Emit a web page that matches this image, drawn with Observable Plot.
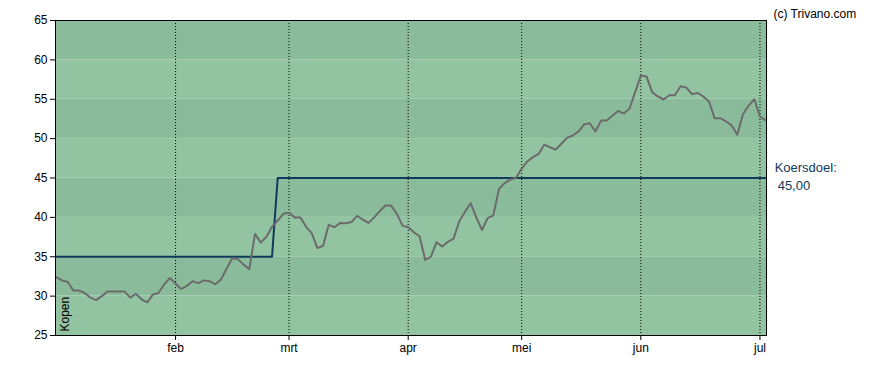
<!DOCTYPE html>
<html><head><meta charset="utf-8">
<script src="https://cdn.jsdelivr.net/npm/d3@7"></script>
<script src="https://cdn.jsdelivr.net/npm/@observablehq/plot@0.6"></script>
<style>body{margin:0;background:#fff} svg{display:block}</style>
</head><body><div id="chart"></div>
<script>
// Koers (price) per trading day, starting early January
const price = [
  32.4, 32.0, 31.8, 30.7, 30.7, 30.4, 29.8, 29.5, 30.0, 30.6,
  30.6, 30.6, 30.6, 29.8, 30.3, 29.6, 29.2, 30.2, 30.4, 31.5,
  32.3, 31.6, 30.9, 31.3, 31.9, 31.65, 32.0, 31.9, 31.5, 32.1,
  33.5, 34.8, 34.7, 34.0, 33.4, 37.9, 36.8, 37.5, 38.8, 39.6,
  40.45, 40.6, 40.0, 40.0, 38.8, 38.0, 36.1, 36.4, 39.05, 38.75,
  39.3, 39.25, 39.4, 40.2, 39.7, 39.3, 40.0, 40.8, 41.5, 41.5,
  40.45, 38.95, 38.75, 38.1, 37.6, 34.6, 35.0, 36.85, 36.3, 36.9,
  37.3, 39.5, 40.7, 41.8, 40.0, 38.4, 39.9, 40.25, 43.6, 44.35,
  44.8, 45.0, 46.2, 47.1, 47.65, 48.05, 49.25, 48.9, 48.6, 49.35,
  50.1, 50.4, 50.9, 51.8, 51.95, 50.9, 52.3, 52.3, 52.9, 53.5,
  53.2, 53.8, 55.9, 58.0, 57.9, 55.9, 55.35, 54.97, 55.5, 55.5,
  56.65, 56.5, 55.65, 55.8, 55.35, 54.75, 52.6, 52.6, 52.2, 51.7,
  50.5, 53.1, 54.2, 55.0, 52.8, 52.3
];
// Koersdoel (target price) step line
const targetIdx = [0, 38, 39, 125];
const targetVal = [35, 35, 45, 45];
// Month ticks (trading-day index of first day of month)
const monthIdx = [21, 41, 62, 82, 103, 124];
const monthLabels = ["feb", "mrt", "apr", "mei", "jun", "jul"];
// Y ticks and background bands
const yTicks = [25, 30, 35, 40, 45, 50, 55, 60, 65];
const bandLo = [25, 30, 35, 40, 45, 50, 55, 60];
const bandHi = [30, 35, 40, 45, 50, 55, 60, 65];
const bandFill = ["#92c4a2", "#8abc9b", "#92c4a2", "#8abc9b", "#92c4a2", "#8abc9b", "#92c4a2", "#8abc9b"];

const xDomain = [-0.16, 125.15];
const bands = bandLo.map((lo, k) => ({lo, hi: bandHi[k], fill: bandFill[k]}));
const priceData = price.map((v, i) => ({i, v}));
const targetData = targetIdx.map((x, k) => ({x, y: targetVal[k]}));
const lastTarget = targetVal[targetVal.length - 1];
const navy = "#0f3a5c";

const chart = Plot.plot({
  width: 888, height: 370,
  marginLeft: 55, marginRight: 122, marginTop: 20, marginBottom: 35,
  style: {fontFamily: "'Liberation Sans', Arial, sans-serif", fontSize: "12px", color: "#000", background: "#fff"},
  x: {domain: xDomain, axis: null},
  y: {domain: [25, 65], axis: null},
  marks: [
    Plot.rect(bands, {x1: () => xDomain[0], x2: () => xDomain[1], y1: "lo", y2: "hi", fill: "fill"}),
    Plot.ruleX(monthIdx, {stroke: "#000", strokeWidth: 1, strokeDasharray: "1,2"}),
    Plot.line(targetData, {x: "x", y: "y", stroke: navy, strokeWidth: 2}),
    Plot.line(priceData, {x: "i", y: "v", stroke: "#6b6b6b", strokeWidth: 2}),
    Plot.frame({stroke: "#000", strokeWidth: 1}),
    Plot.axisY(yTicks, {tickSize: 5, tickPadding: 3, fontSize: 12, fill: "#000", stroke: "#000"}),
    Plot.axisX(monthIdx, {tickSize: 5, tickPadding: 3, fontSize: 12, fill: "#000", stroke: "#000",
      tickFormat: d => monthLabels[monthIdx.indexOf(d)]}),
    Plot.text(["Kopen"], {frameAnchor: "bottom-left", rotate: -90, textAnchor: "start", lineAnchor: "bottom",
      dx: 13.5, dy: -4, fontSize: 12, fill: "#000"}),
    Plot.text([{x: 125, y: lastTarget}], {x: "x", y: "y", text: () => "Koersdoel:", textAnchor: "start",
      dx: 9, dy: -10, fontSize: 13, fill: navy}),
    Plot.text([{x: 125, y: lastTarget}], {x: "x", y: "y", text: d => d3.format(".2f")(d.y).replace(".", ","),
      textAnchor: "start", dx: 12, dy: 8, fontSize: 13, fill: navy}),
    Plot.text(["(c) Trivano.com"], {frameAnchor: "top-right", textAnchor: "start", dx: 7, dy: -11.5,
      fontSize: 12, fill: "#000"})
  ]
});
document.getElementById("chart").appendChild(chart);
</script>
</body></html>
